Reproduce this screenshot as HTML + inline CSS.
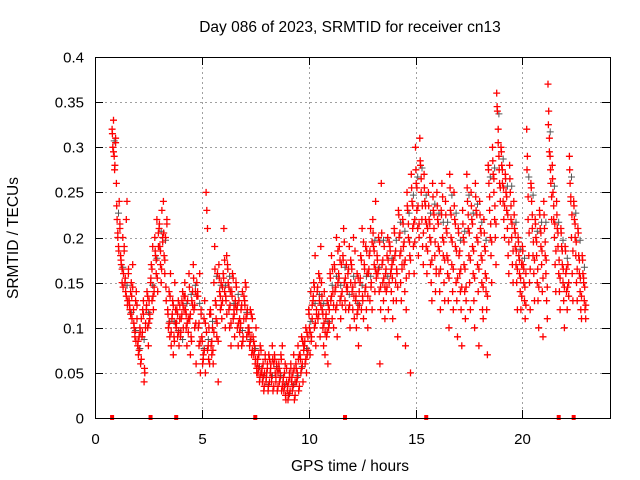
<!DOCTYPE html>
<html><head><meta charset="utf-8"><style>
body{margin:0;background:#fff;}
svg{display:block;font-family:"Liberation Sans",sans-serif;}
</style></head><body>
<svg id="chart" width="640" height="480">
<text x="350" y="32" text-anchor="middle" font-size="15.5">Day 086 of 2023, SRMTID for receiver cn13</text>
<text x="350" y="471" text-anchor="middle" font-size="15.5">GPS time / hours</text>
<text transform="translate(18,238) rotate(-90)" text-anchor="middle" font-size="15.5">SRMTID / TECUs</text>
<g id="grid"></g><g id="marks"></g><g id="axes"></g>
</svg>
<script>
const xTicks=[0,5,10,15,20];
const yTicks=[0,0.05,0.1,0.15,0.2,0.25,0.3,0.35,0.4];
const yTickLabels=["0","0.05","0.1","0.15","0.2","0.25","0.3","0.35","0.4"];
const times=[];
for(let i=0;i<=110;i++) times.push(+(0.8+i*0.2).toFixed(1));
const srmtid=[
[0.32,0.30,0.33,0.29,0.28,0.31],[0.26,0.22,0.20,0.19,0.24,0.21],[0.18,0.17,0.15,0.20,0.16,0.19],[0.15,0.14,0.22,0.24,0.13,0.16],
[0.13,0.12,0.14,0.15,0.11,0.17],[0.12,0.10,0.09,0.13,0.14,0.11],[0.08,0.07,0.09,0.10,0.06,0.11],[0.09,0.12,0.13,0.04,0.05,0.10],
[0.12,0.14,0.10,0.08,0.13,0.11],[0.15,0.17,0.13,0.19,0.12,0.14],[0.20,0.18,0.16,0.22,0.14,0.19],[0.21,0.19,0.17,0.15,0.23,0.20],
[0.24,0.18,0.16,0.20,0.13,0.22],[0.12,0.10,0.14,0.09,0.16,0.08],[0.11,0.13,0.07,0.09,0.15,0.12],[0.10,0.12,0.09,0.13,0.08,0.11],
[0.09,0.11,0.13,0.14,0.10,0.12],[0.15,0.12,0.10,0.08,0.13,0.11],[0.16,0.11,0.07,0.09,0.13,0.14],[0.17,0.12,0.10,0.14,0.06,0.15],
[0.14,0.10,0.08,0.16,0.05,0.12],[0.09,0.06,0.07,0.11,0.13,0.05],[0.25,0.23,0.21,0.08,0.10,0.06],[0.12,0.08,0.07,0.10,0.06,0.15],
[0.19,0.13,0.11,0.09,0.16,0.04],[0.17,0.14,0.12,0.15,0.11,0.13],[0.16,0.21,0.14,0.10,0.13,0.18],[0.17,0.15,0.12,0.10,0.14,0.08],
[0.14,0.16,0.11,0.12,0.09,0.13],[0.15,0.12,0.10,0.08,0.13,0.11],[0.10,0.12,0.08,0.14,0.09,0.11],[0.13,0.15,0.11,0.09,0.12,0.10],
[0.10,0.08,0.12,0.09,0.07,0.11],[0.09,0.07,0.08,0.06,0.10,0.05],[0.06,0.05,0.07,0.04,0.08,0.05],[0.05,0.04,0.06,0.03,0.05,0.07],
[0.04,0.05,0.06,0.03,0.07,0.04],[0.05,0.06,0.04,0.08,0.03,0.06],[0.07,0.05,0.04,0.06,0.03,0.05],[0.06,0.04,0.05,0.07,0.03,0.08],
[0.04,0.03,0.05,0.06,0.02,0.04],[0.03,0.02,0.04,0.05,0.03,0.06],[0.04,0.03,0.05,0.07,0.02,0.04],[0.06,0.04,0.05,0.08,0.03,0.07],
[0.07,0.05,0.09,0.06,0.04,0.08],[0.08,0.06,0.10,0.05,0.07,0.09],[0.12,0.10,0.07,0.14,0.09,0.11],[0.13,0.15,0.10,0.18,0.08,0.12],
[0.14,0.11,0.16,0.13,0.09,0.19],[0.15,0.12,0.10,0.08,0.14,0.07],[0.11,0.09,0.13,0.06,0.10,0.12],[0.16,0.13,0.18,0.11,0.14,0.10],
[0.17,0.14,0.12,0.20,0.09,0.15],[0.16,0.19,0.13,0.11,0.17,0.14],[0.18,0.21,0.15,0.13,0.12,0.17],[0.14,0.16,0.12,0.19,0.10,0.15],
[0.17,0.14,0.12,0.20,0.11,0.15],[0.13,0.10,0.16,0.12,0.08,0.14],[0.15,0.18,0.12,0.21,0.13,0.11],[0.17,0.14,0.19,0.12,0.16,0.10],
[0.16,0.18,0.13,0.21,0.15,0.12],[0.22,0.19,0.17,0.14,0.24,0.16],[0.18,0.16,0.20,0.14,0.06,0.12],[0.26,0.17,0.15,0.13,0.19,0.11],
[0.16,0.14,0.18,0.20,0.12,0.15],[0.19,0.16,0.14,0.17,0.11,0.13],[0.21,0.18,0.15,0.13,0.16,0.09],[0.23,0.20,0.18,0.15,0.13,0.17],
[0.22,0.19,0.17,0.14,0.08,0.12],[0.25,0.23,0.20,0.16,0.18,0.05],[0.27,0.24,0.21,0.19,0.16,0.22],[0.30,0.26,0.23,0.21,0.18,0.20],
[0.31,0.28,0.25,0.22,0.19,0.17],[0.27,0.24,0.22,0.19,0.16,0.21],[0.25,0.22,0.20,0.17,0.15,0.13],[0.26,0.23,0.21,0.18,0.14,0.16],
[0.25,0.22,0.19,0.16,0.14,0.12],[0.23,0.26,0.20,0.18,0.15,0.13],[0.24,0.21,0.18,0.16,0.13,0.10],[0.27,0.23,0.20,0.17,0.14,0.12],
[0.25,0.22,0.19,0.15,0.13,0.09],[0.21,0.18,0.16,0.14,0.12,0.08],[0.23,0.20,0.17,0.14,0.11,0.13],[0.27,0.24,0.21,0.18,0.15,0.12],
[0.25,0.22,0.19,0.16,0.13,0.10],[0.26,0.23,0.20,0.17,0.14,0.08],[0.24,0.21,0.18,0.15,0.12,0.11],[0.22,0.19,0.16,0.14,0.12,0.07],
[0.28,0.26,0.23,0.20,0.18,0.15],[0.30,0.27,0.25,0.22,0.20,0.17],[0.36,0.34,0.32,0.29,0.26,0.24],[0.30,0.28,0.26,0.24,0.22,0.20],
[0.27,0.25,0.23,0.21,0.18,0.16],[0.28,0.25,0.22,0.20,0.17,0.15],[0.24,0.21,0.19,0.17,0.15,0.12],[0.20,0.18,0.16,0.14,0.12,0.17],
[0.19,0.17,0.15,0.13,0.11,0.16],[0.32,0.29,0.22,0.18,0.15,0.12],[0.26,0.24,0.21,0.18,0.16,0.13],[0.22,0.20,0.18,0.15,0.13,0.10],
[0.23,0.21,0.19,0.17,0.14,0.09],[0.24,0.21,0.18,0.16,0.13,0.11],[0.37,0.34,0.31,0.29,0.26,0.22],[0.28,0.25,0.22,0.20,0.17,0.14],
[0.24,0.21,0.19,0.16,0.14,0.12],[0.21,0.19,0.17,0.15,0.13,0.10],[0.19,0.16,0.14,0.12,0.17,0.15],[0.29,0.26,0.24,0.20,0.16,0.13],
[0.24,0.22,0.20,0.18,0.15,0.13],[0.21,0.18,0.16,0.14,0.12,0.11],[0.18,0.16,0.15,0.13,0.12,0.11]
];
const srmtidExtra=[
[0.315,0.295,0.275,0.305],[0.235,0.205,0.185,0.215],[0.175,0.165,0.145,0.185],[0.155,0.135,0.125,0.165],
[0.125,0.115,0.135,0.145],[0.105,0.095,0.085,0.125],[0.085,0.075,0.095,0.065],[0.095,0.115,0.055,0.105],
[0.125,0.135,0.105,0.115],[0.155,0.165,0.135,0.145],[0.185,0.175,0.155,0.205],[0.215,0.185,0.165,0.195],
[0.205,0.175,0.145,0.215],[0.115,0.105,0.135,0.095],[0.115,0.125,0.085,0.105],[0.105,0.115,0.095,0.125],
[0.095,0.115,0.125,0.135],[0.135,0.115,0.105,0.095],[0.145,0.115,0.085,0.125],[0.155,0.125,0.105,0.135],
[0.135,0.105,0.085,0.115],[0.085,0.065,0.075,0.105],[0.095,0.075,0.065,0.115],[0.115,0.085,0.075,0.095],
[0.165,0.125,0.105,0.085],[0.155,0.135,0.125,0.145],[0.155,0.175,0.135,0.115],[0.165,0.145,0.125,0.105],
[0.135,0.155,0.115,0.125],[0.145,0.125,0.105,0.095],[0.105,0.125,0.085,0.135],[0.125,0.145,0.115,0.095],
[0.095,0.085,0.115,0.075],[0.085,0.075,0.065,0.055],[0.065,0.055,0.045,0.075],[0.055,0.045,0.035,0.065],
[0.045,0.055,0.035,0.065],[0.055,0.045,0.065,0.035],[0.065,0.045,0.055,0.035],[0.055,0.045,0.065,0.035],
[0.045,0.035,0.025,0.055],[0.035,0.025,0.045,0.055],[0.045,0.035,0.055,0.025],[0.055,0.045,0.065,0.035],
[0.065,0.055,0.085,0.075],[0.085,0.065,0.095,0.075],[0.115,0.095,0.085,0.125],[0.135,0.145,0.105,0.115],
[0.145,0.115,0.155,0.125],[0.135,0.115,0.105,0.095],[0.115,0.095,0.125,0.105],[0.155,0.135,0.165,0.125],
[0.165,0.145,0.125,0.185],[0.155,0.175,0.135,0.125],[0.175,0.195,0.155,0.145],[0.145,0.165,0.125,0.175],
[0.165,0.145,0.135,0.185],[0.135,0.115,0.155,0.125],[0.155,0.175,0.135,0.195],[0.165,0.145,0.185,0.135],
[0.165,0.185,0.145,0.195],[0.205,0.185,0.165,0.155],[0.175,0.165,0.195,0.145],[0.205,0.175,0.155,0.145],
[0.165,0.145,0.175,0.195],[0.185,0.165,0.155,0.175],[0.205,0.185,0.165,0.145],[0.225,0.205,0.185,0.165],
[0.215,0.195,0.175,0.155],[0.235,0.215,0.195,0.175],[0.255,0.235,0.215,0.195],[0.275,0.255,0.235,0.215],
[0.285,0.265,0.235,0.205],[0.255,0.235,0.215,0.185],[0.235,0.215,0.195,0.175],[0.245,0.225,0.195,0.165],
[0.235,0.215,0.185,0.165],[0.225,0.245,0.195,0.175],[0.225,0.205,0.175,0.155],[0.255,0.225,0.195,0.165],
[0.235,0.215,0.185,0.155],[0.205,0.185,0.165,0.145],[0.215,0.195,0.165,0.145],[0.255,0.225,0.205,0.175],
[0.235,0.215,0.185,0.155],[0.245,0.225,0.195,0.165],[0.225,0.205,0.175,0.145],[0.205,0.185,0.155,0.135],
[0.275,0.245,0.215,0.195],[0.285,0.265,0.235,0.215],[0.345,0.305,0.275,0.255],[0.295,0.275,0.255,0.235],
[0.265,0.245,0.225,0.195],[0.265,0.235,0.215,0.185],[0.225,0.205,0.185,0.165],[0.195,0.175,0.155,0.135],
[0.185,0.165,0.145,0.125],[0.275,0.245,0.205,0.165],[0.255,0.225,0.195,0.175],[0.215,0.195,0.165,0.145],
[0.225,0.205,0.185,0.155],[0.225,0.195,0.175,0.145],[0.325,0.295,0.275,0.245],[0.265,0.235,0.215,0.185],
[0.225,0.205,0.175,0.155],[0.205,0.185,0.165,0.145],[0.185,0.165,0.145,0.135],[0.275,0.245,0.225,0.185],
[0.235,0.215,0.195,0.165],[0.205,0.175,0.155,0.135],[0.175,0.155,0.145,0.125]
];
const zeroTimes=[0.8,2.6,3.8,7.5,11.7,15.5,21.7,22.4];

const L=95,R=610,T=57,B=418;
const xScale=t=>L+t*(R-L)/24.1;
const yScale=v=>B-v*(B-T)/0.4;
const NS="http://www.w3.org/2000/svg";
function mk(tag,attrs,parent){const e=document.createElementNS(NS,tag);for(const k in attrs)e.setAttribute(k,attrs[k]);parent.appendChild(e);return e;}
const grid=document.getElementById('grid'),marks=document.getElementById('marks'),axes=document.getElementById('axes');
yTicks.forEach((v,i)=>{
  const y=Math.round(yScale(v))+0.5;
  if(i>0&&i<yTicks.length-1){const g=mk('line',{x1:L,x2:R,y1:y,y2:y,stroke:'#a0a0a0','stroke-dasharray':'2,3'},grid);
  
  }
  mk('line',{x1:L,x2:L+8,y1:y,y2:y,stroke:'#000'},axes);
  mk('line',{x1:R-8,x2:R,y1:y,y2:y,stroke:'#000'},axes);
  const t=mk('text',{x:84,y:y+5,'text-anchor':'end','font-size':15},axes);t.textContent=yTickLabels[i];
  
  
});
xTicks.forEach(v=>{
  const x=Math.round(xScale(v))+0.5;
  if(v>0){const g=mk('line',{x1:x,x2:x,y1:T,y2:B,stroke:'#a0a0a0','stroke-dasharray':'2,3'},grid);
  
  }
  mk('line',{x1:x,x2:x,y1:B,y2:B-8,stroke:'#000'},axes);
  mk('line',{x1:x,x2:x,y1:T,y2:T+8,stroke:'#000'},axes);
  const t=mk('text',{x:x,y:444,'text-anchor':'middle','font-size':15},axes);t.textContent=String(v);
  
  
});
const frame=mk('rect',{x:L+0.5,y:T+0.5,width:R-L,height:B-T,fill:'none',stroke:'#000'},axes);


function cross(t,v){const x=xScale(t),y=yScale(v);return `M${(x-3.5).toFixed(1)} ${y.toFixed(1)}h7M${x.toFixed(1)} ${(y-3.5).toFixed(1)}v7`;}
let d='',dg='';
times.forEach((t,i)=>{
  srmtid[i].forEach((v,j)=>{d+=cross(t+j*0.033,v);});
  srmtidExtra[i].forEach((v,j)=>{d+=cross(t+0.016+j*0.05,v);if(j===0)dg+=cross(t+0.1,v-0.008);});
});
const pg=mk('path',{d:dg,stroke:'#555','stroke-width':1,fill:'none'},marks);


const p=mk('path',{d:d,stroke:'#ff0000','stroke-width':1.3,fill:'none'},marks);


zeroTimes.forEach(t=>{
  const r=mk('rect',{x:xScale(t)-2,y:yScale(0)-3,width:4,height:5,fill:'#ff0000'},marks);
  
  
});
</script>
</body></html>
